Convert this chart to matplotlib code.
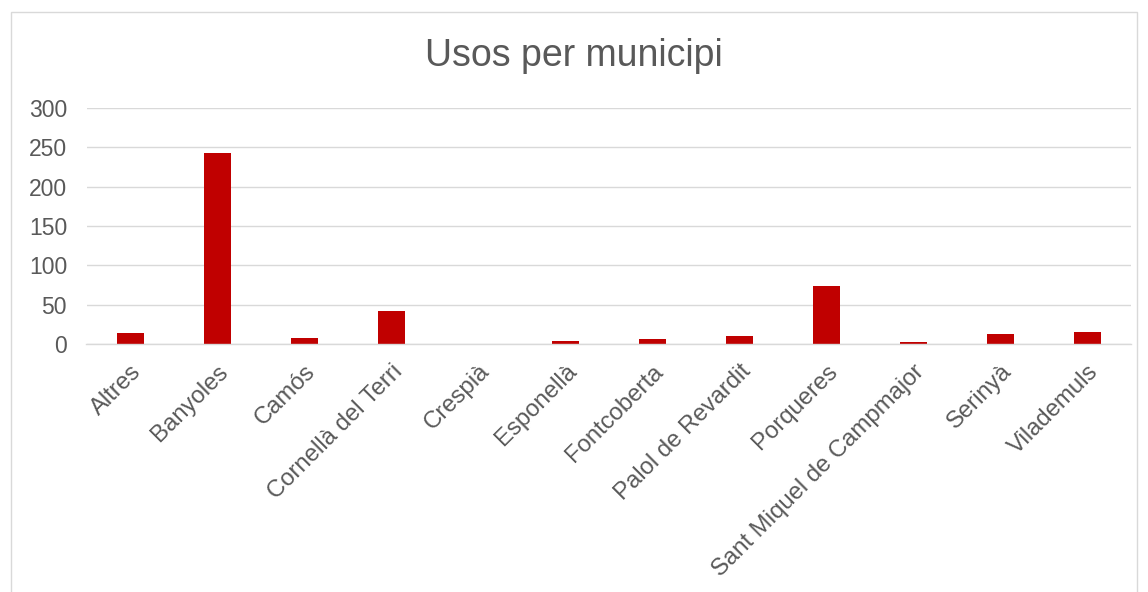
import matplotlib
matplotlib.use("Agg")
import matplotlib.pyplot as plt
from matplotlib.patches import Rectangle

categories = ["Altres", "Banyoles", "Camós", "Cornellà del Terri", "Crespià",
              "Esponellà", "Fontcoberta", "Palol de Revardit", "Porqueres",
              "Sant Miquel de Campmajor", "Serinyà", "Vilademuls"]
values = [14, 243, 8, 42, 0, 4, 6, 10, 74, 2, 13, 15]
yticks = [0, 50, 100, 150, 200, 250, 300]
title = "Usos per municipi"

plt.rcParams['font.family'] = ['Liberation Sans', 'DejaVu Sans']
W, H = 1148, 592
fig = plt.figure(figsize=(W / 100, H / 100), dpi=100)
fig.patch.set_facecolor("white")

# chart border
fig.patches.append(Rectangle((11 / W, -0.05), (1137 - 11) / W, 1.05 - 12 / H,
                             transform=fig.transFigure, fill=False,
                             edgecolor="#d9d9d9", linewidth=1.0))

ax = fig.add_axes([86.5 / W, 248 / H, (1131 - 86.5) / W, (344 - 108) / H])
x = list(range(len(categories)))
ax.bar(x, values, width=0.31, color="#c00000", zorder=3)
ax.set_xlim(-0.5, len(categories) - 0.5)
ax.set_ylim(0, 300)
ax.set_yticks(yticks)
ax.set_yticklabels([str(v) for v in yticks])
ax.set_xticks(x)
ax.set_xticklabels(categories, rotation=45, ha="right", va="top",
                   rotation_mode="anchor", fontsize=17.2)
ax.tick_params(axis="both", length=0, colors="#595959")
ax.tick_params(axis="y", pad=14, labelsize=16.5)
ax.tick_params(axis="x", pad=12)
ax.grid(axis="y", color="#d9d9d9", linewidth=1.0, zorder=0)
for s in ["top", "right", "left"]:
    ax.spines[s].set_visible(False)
ax.spines["bottom"].set_color("#d9d9d9")
ax.spines["bottom"].set_linewidth(1.0)
ax.spines["bottom"].set_zorder(4)

fig.text(0.5, 1 - 56 / H, title, ha="center", va="center",
         fontsize=27, color="#595959")

fig.savefig("out.png", dpi=100)
